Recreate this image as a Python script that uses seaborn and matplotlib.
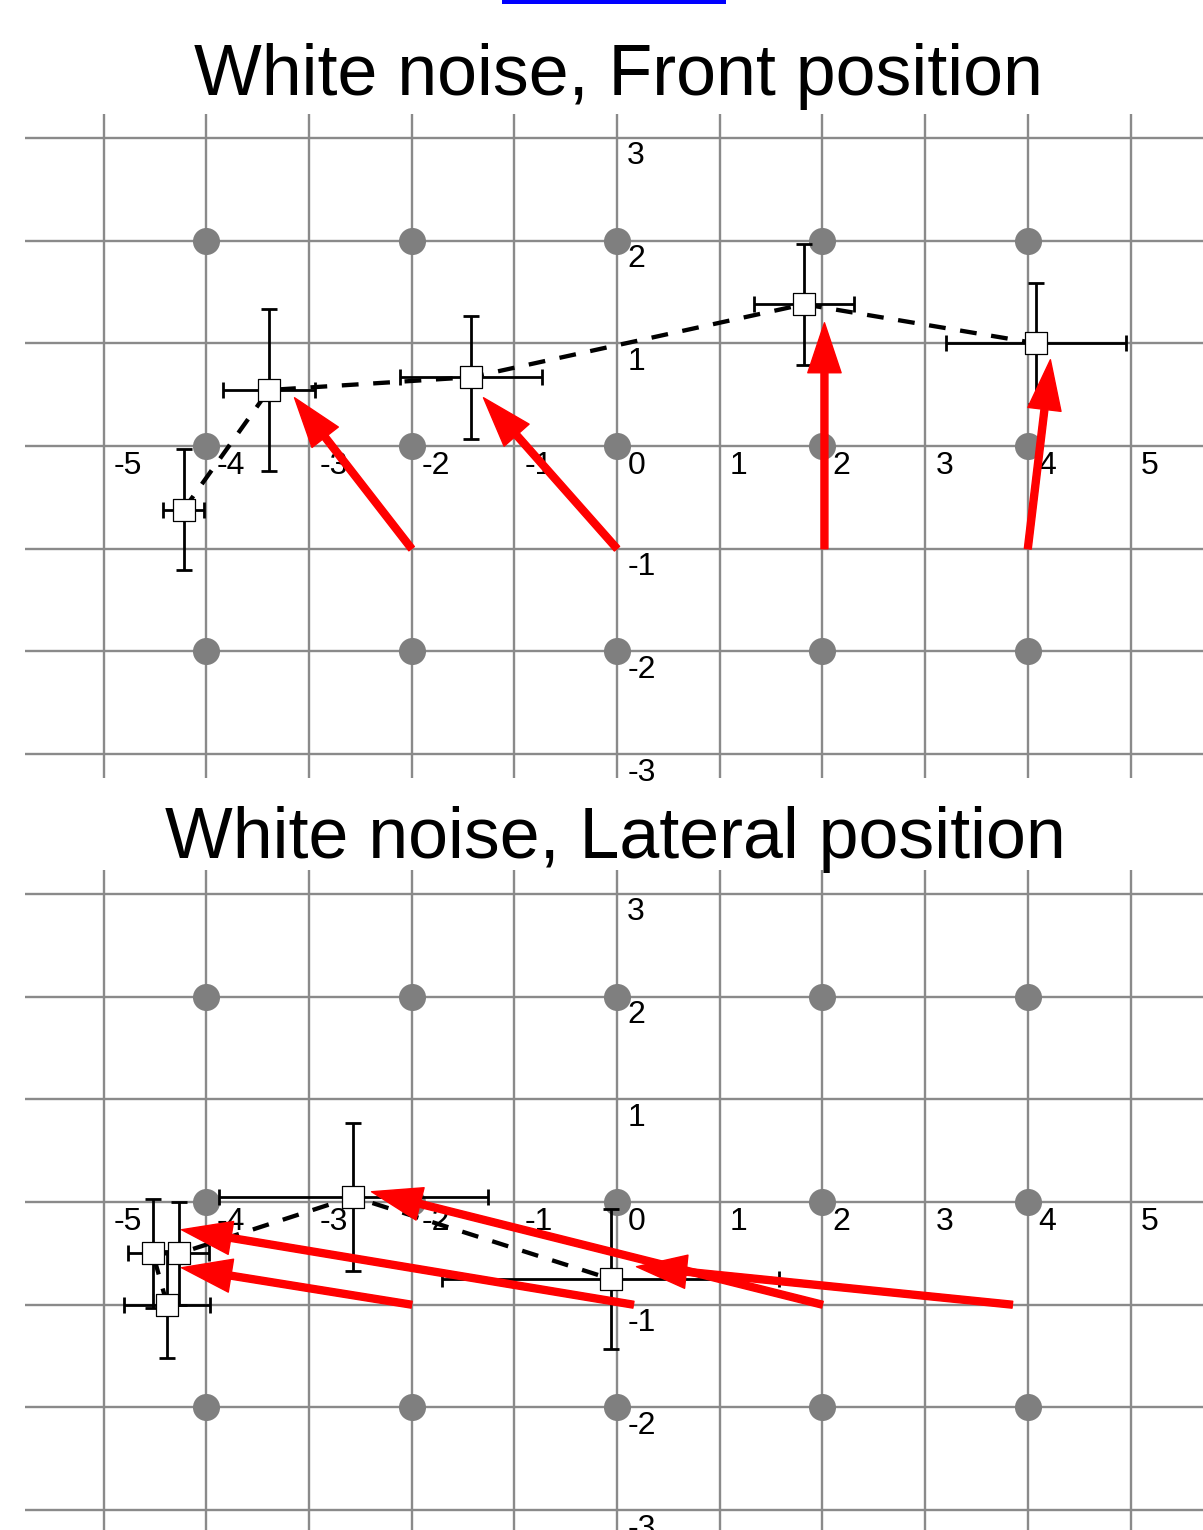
import numpy as np
import pandas as pd
import seaborn as sns
import matplotlib.pyplot as plt
from matplotlib.patches import Rectangle

# ---------------- data ----------------
titles = ["White noise, Front position", "White noise, Lateral position"]

grid_x = [-5, -4, -3, -2, -1, 0, 1, 2, 3, 4, 5]
grid_y = [-3, -2, -1, 0, 1, 2, 3]
dot_x = [-4, -2, 0, 2, 4]
dot_y = [-2, 0, 2]
xtick_labels = ["-5", "-4", "-3", "-2", "-1", "0", "1", "2", "3", "4", "5"]
ytick_vals = [3, 2, 1, -1, -2, -3]
ytick_labels = ["3", "2", "1", "-1", "-2", "-3"]

front_x = [-4.22, -3.39, -1.42, 1.82, 4.08]
front_y = [-0.62, 0.545, 0.67, 1.38, 1.00]
front_xerr = [0.20, 0.45, 0.69, 0.49, 0.88]
front_yerr = [0.59, 0.79, 0.60, 0.59, 0.59]
front_src_x = [-2.0, 0.0, 2.02, 4.0]
front_src_y = [-1.0, -1.0, -1.0, -1.0]
front_tip_x = [-3.14, -1.30, 2.02, 4.22]
front_tip_y = [0.47, 0.47, 1.20, 0.84]

lateral_x = [-4.38, -4.52, -4.26, -2.57, -0.06]
lateral_y = [-1.00, -0.50, -0.50, 0.05, -0.75]
lateral_xerr = [0.42, 0.24, 0.29, 1.31, 1.64]
lateral_yerr = [0.52, 0.53, 0.50, 0.72, 0.68]
lateral_src_x = [-2.0, 0.16, 2.0, 3.85]
lateral_src_y = [-1.0, -1.0, -1.0, -1.0]
lateral_tip_x = [-4.24, -4.24, -2.39, 0.19]
lateral_tip_y = [-0.64, -0.27, 0.10, -0.63]

# ---------------- style / layout ----------------
sns.set_theme(style="white")
plt.rcParams["font.family"] = ["Liberation Sans", "DejaVu Sans"]

W, H = 1203, 1530
S = 102.7          # pixels per data unit
X0 = 617           # pixel column of x = 0
GRID_C = "#8a8a8a"
DOT_C = "#7f7f7f"

fig = plt.figure(figsize=(W / 100, H / 100), dpi=100)


def make_axes(top_px, bot_px, y0_px):
    ax = fig.add_axes([0, 1 - bot_px / H, 1, (bot_px - top_px) / H])
    ax.set_xlim(-X0 / S, (W - X0) / S)
    ax.set_ylim((y0_px - bot_px) / S, (y0_px - top_px) / S)
    ax.axis("off")
    return ax


def draw_panel(ax, px, py, pxe, pye, sx, sy, tx, ty):
    ax.hlines(grid_y, -5.76, 5.76, color=GRID_C, lw=1.7, zorder=1)
    ax.vlines(grid_x, -3.23, 3.23, color=GRID_C, lw=1.7, zorder=1)
    dots = pd.DataFrame([(a, b) for a in dot_x for b in dot_y], columns=["x", "y"])
    sns.scatterplot(data=dots, x="x", y="y", ax=ax, s=380, color=DOT_C,
                    linewidth=0, zorder=2, legend=False)
    for v, lab in zip(grid_x, xtick_labels):
        ax.text(v + 0.1, -0.19, lab, ha="left", va="center", fontsize=23,
                color="black", zorder=5)
    for v, lab in zip(ytick_vals, ytick_labels):
        ax.text(0.1, v - 0.18, lab, ha="left", va="center", fontsize=23,
                color="black", zorder=5)
    pts = pd.DataFrame({"x": px, "y": py})
    line_ax = sns.lineplot(data=pts, x="x", y="y", ax=ax, sort=False,
                           estimator=None, color="black", zorder=3)
    ln = line_ax.lines[-1]
    ln.set_linewidth(3.1)
    ln.set_linestyle((0, (3.9, 3.4)))
    ax.errorbar(px, py, xerr=pxe, yerr=pye, fmt="none", ecolor="black",
                elinewidth=2.0, capsize=5.6, capthick=2.0, zorder=4)
    sns.scatterplot(data=pts, x="x", y="y", ax=ax, marker="s", s=270,
                    color="white", edgecolor="black", linewidth=0.9,
                    zorder=5, legend=False)
    for a, b, c, d in zip(sx, sy, tx, ty):
        ax.annotate("", xy=(c, d), xytext=(a, b),
                    arrowprops=dict(color="red", width=5.0, headwidth=24,
                                    headlength=36, shrink=0),
                    zorder=7)
    ax.set_xlabel("")
    ax.set_ylabel("")


ax1 = make_axes(100, 800, 446)
draw_panel(ax1, front_x, front_y, front_xerr, front_yerr,
           front_src_x, front_src_y, front_tip_x, front_tip_y)
ax2 = make_axes(860, 1530, 1202)
draw_panel(ax2, lateral_x, lateral_y, lateral_xerr, lateral_yerr,
           lateral_src_x, lateral_src_y, lateral_tip_x, lateral_tip_y)

fig.text(618 / W, 1 - 95 / H, titles[0], ha="center", va="baseline",
         fontsize=51.7, color="black")
fig.text(615 / W, 1 - 858 / H, titles[1], ha="center", va="baseline",
         fontsize=51.7, color="black")

fig.add_artist(Rectangle((502 / W, 1 - 4 / H), (726 - 502) / W, 4 / H,
                         transform=fig.transFigure, color="#0000ff", lw=0))

fig.savefig("out.png", dpi=100)
